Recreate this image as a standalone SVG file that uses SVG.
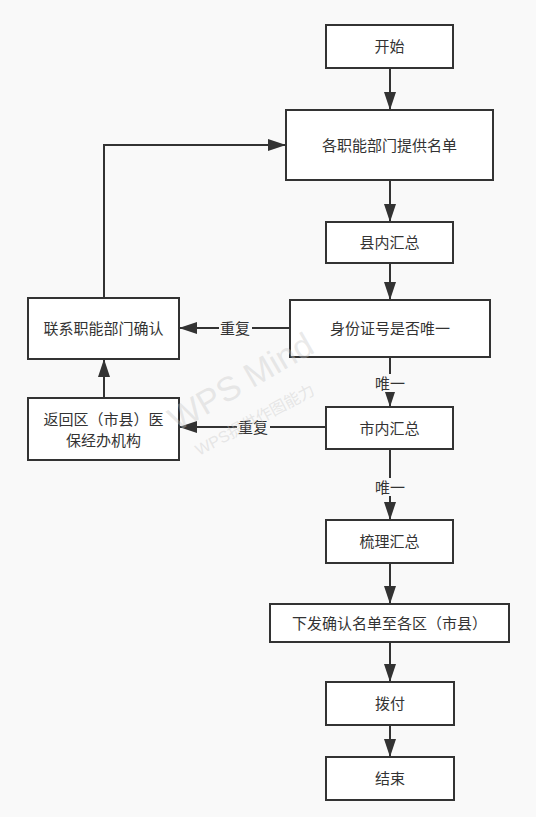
<svg xmlns="http://www.w3.org/2000/svg" width="536" height="817" viewBox="0 0 536 817">
<style>
.bg{fill:#f9f9f9}
.box rect{fill:#ffffff;stroke:#333333;stroke-width:2}
.box text,.lbl text{font-family:"Liberation Sans","Noto Sans CJK SC",sans-serif;font-size:15px;fill:#333333;text-anchor:middle;dominant-baseline:central}
.edge{fill:none;stroke:#333333;stroke-width:2}
.lbl rect{fill:#f9f9f9}
.wm{font-family:"Liberation Sans","Noto Sans CJK SC",sans-serif;fill:#c8c8c8;fill-opacity:0.4}
</style>
<defs>
<marker id="ah" markerUnits="userSpaceOnUse" markerWidth="18" markerHeight="12" refX="18" refY="6" orient="auto">
<path d="M0,0 L18,6 L0,12 Z" fill="#333333"/>
</marker>
</defs>
<rect class="bg" x="0" y="0" width="536" height="817"/>
<g id="connectors">
<path class="edge" d="M390,68 V110" marker-end="url(#ah)"/>
<path class="edge" d="M390,180 V222" marker-end="url(#ah)"/>
<path class="edge" d="M390,263 V300" marker-end="url(#ah)"/>
<path class="edge" d="M290,328 H179" marker-end="url(#ah)"/>
<path class="edge" d="M390,357 V407" marker-end="url(#ah)"/>
<path class="edge" d="M326,427 H179" marker-end="url(#ah)"/>
<path class="edge" d="M390,449 V520" marker-end="url(#ah)"/>
<path class="edge" d="M390,563 V604" marker-end="url(#ah)"/>
<path class="edge" d="M390,642 V682" marker-end="url(#ah)"/>
<path class="edge" d="M390,725 V757" marker-end="url(#ah)"/>
<path class="edge" d="M104,398 V359" marker-end="url(#ah)"/>
<path class="edge" d="M104,298 V145 H286" marker-end="url(#ah)"/>
<g class="lbl"><rect x="219" y="319" width="33" height="18"/><text x="235" y="328">重复</text></g>
<g class="lbl"><rect x="237" y="418" width="33" height="18"/><text x="253" y="427">重复</text></g>
<g class="lbl"><rect x="374" y="374" width="33" height="18"/><text x="390" y="383">唯一</text></g>
<g class="lbl"><rect x="374" y="478" width="33" height="18"/><text x="390" y="487">唯一</text></g>
</g>
<g id="n_start" class="box"><rect x="326" y="25" width="127" height="43"/><text x="389.5" y="46.5">开始</text></g>
<g id="n_list" class="box"><rect x="286" y="110" width="207" height="70"/><text x="389.5" y="145">各职能部门提供名单</text></g>
<g id="n_county" class="box"><rect x="326" y="222" width="127" height="41"/><text x="389.5" y="242.5">县内汇总</text></g>
<g id="n_id" class="box"><rect x="290" y="300" width="200" height="57"/><text x="390" y="328.5">身份证号是否唯一</text></g>
<g id="n_contact" class="box"><rect x="28" y="298" width="151" height="61"/><text x="103.5" y="328.5">联系职能部门确认</text></g>
<g id="n_return" class="box"><rect x="28" y="398" width="151" height="62"/><text x="103.5" y="419">返回区（市县）医</text><text x="103.5" y="440">保经办机构</text></g>
<g id="n_city" class="box"><rect x="326" y="407" width="127" height="42"/><text x="389.5" y="428">市内汇总</text></g>
<g id="n_sort" class="box"><rect x="326" y="520" width="127" height="43"/><text x="389.5" y="541.5">梳理汇总</text></g>
<g id="n_issue" class="box"><rect x="270" y="604" width="239" height="38"/><text x="389.5" y="623">下发确认名单至各区（市县）</text></g>
<g id="n_pay" class="box"><rect x="326" y="682" width="128" height="43"/><text x="390" y="703.5">拨付</text></g>
<g id="n_end" class="box"><rect x="326" y="757" width="128" height="43"/><text x="390" y="778.5">结束</text></g>
<g class="wm">
<text x="177" y="432" font-size="34" transform="rotate(-30 177 432)">WPS Mind</text>
<text x="199" y="456" font-size="16" transform="rotate(-28 199 456)">WPS提供作图能力</text>
</g>
</svg>
